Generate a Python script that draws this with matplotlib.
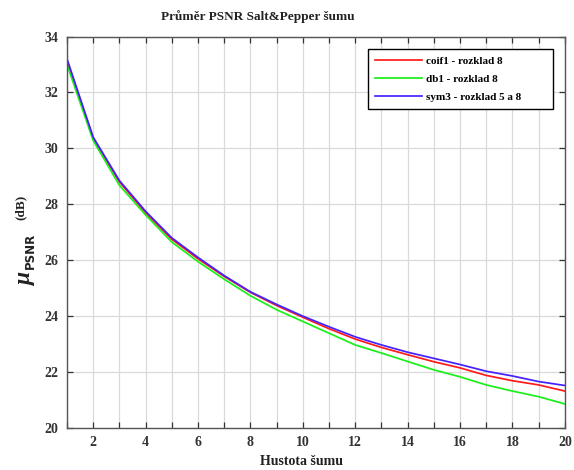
import matplotlib
matplotlib.use("Agg")
import matplotlib.pyplot as plt
from matplotlib.ticker import MultipleLocator

# noise density (x) and mean PSNR in dB for each wavelet
density = [1, 2, 3, 4, 5, 6, 7, 8, 9, 10, 11, 12, 13, 14, 15, 16, 17, 18, 19, 20]
coif1 = [33.15, 30.37, 28.80, 27.70, 26.75, 26.05, 25.42, 24.85, 24.38, 23.96,
         23.55, 23.18, 22.88, 22.62, 22.37, 22.15, 21.88, 21.69, 21.54, 21.32]
db1 = [33.00, 30.28, 28.68, 27.62, 26.65, 25.95, 25.32, 24.73, 24.23, 23.81,
       23.39, 22.97, 22.68, 22.38, 22.08, 21.83, 21.54, 21.32, 21.12, 20.86]
sym3 = [33.20, 30.40, 28.85, 27.75, 26.80, 26.10, 25.45, 24.87, 24.42, 24.00,
        23.62, 23.26, 22.97, 22.71, 22.49, 22.27, 22.03, 21.86, 21.66, 21.52]

labels = ["coif1 - rozklad 8", "db1 - rozklad 8", "sym3 - rozklad 5 a 8"]
colors = ["#ff1a1a", "#18f018", "#4422ff"]

plt.rcParams["font.family"] = ["Liberation Serif", "DejaVu Serif"]

fig = plt.figure(figsize=(5.74, 4.70), dpi=100)
ax = fig.add_axes([0.1167, 0.0894, 0.8673, 0.8329])

for series, lab, col in zip([coif1, db1, sym3], labels, colors):
    ax.plot(density, series, color=col, linewidth=1.25, label=lab)

ax.set_xlim(1, 20)
ax.set_ylim(20, 34)
ax.xaxis.set_major_locator(MultipleLocator(2))
ax.xaxis.set_minor_locator(MultipleLocator(1))
ax.yaxis.set_major_locator(MultipleLocator(2))
ax.grid(True, which="both", axis="x", color="#dadada", linewidth=0.9)
ax.grid(True, which="major", axis="y", color="#dadada", linewidth=0.9)
ax.set_axisbelow(True)

ax.tick_params(which="both", direction="in", top=True, right=True,
               length=4, width=0.9, color="#333333", labelcolor="#333333",
               labelsize=10, pad=6)
for lbl in ax.get_xticklabels() + ax.get_yticklabels():
    lbl.set_fontweight("bold")
for sp in ax.spines.values():
    sp.set_color("#555555")
    sp.set_linewidth(1.0)

# title and x label sit a little left of the axes centre in the original
fig.text(0.449, 0.964, "Průměr PSNR Salt&Pepper šumu", fontsize=9.5,
         fontweight="bold", color="#222222", ha="center", va="center")
fig.text(0.526, 0.019, "Hustota šumu", fontsize=10, fontweight="bold",
         color="#222222", ha="center", va="center")

# y label built from pieces: italic mu, subscript PSNR, (dB)
fig.text(0.045, 0.408, "μ", rotation=90, fontsize=17, fontstyle="italic",
         fontweight="bold", ha="center", va="center", color="#222222")
fig.text(0.053, 0.467, "PSNR", rotation=90, fontsize=8.5, fontweight="bold",
         ha="center", va="center", color="#222222",
         family=["DejaVu Sans"])
fig.text(0.036, 0.558, "(dB)", rotation=90, fontsize=9.5, fontweight="bold",
         ha="center", va="center", color="#222222")

leg = ax.legend(loc="upper left", bbox_to_anchor=(0.604, 0.815, 0.372, 0.153),
                mode="expand", fancybox=False, edgecolor="black", framealpha=1,
                prop={"size": 8, "weight": "bold"}, handlelength=4.2,
                borderaxespad=0, borderpad=0.65, labelspacing=0.75,
                handletextpad=0.4)
leg.get_frame().set_linewidth(1.0)

fig.savefig("out.png", dpi=100)
